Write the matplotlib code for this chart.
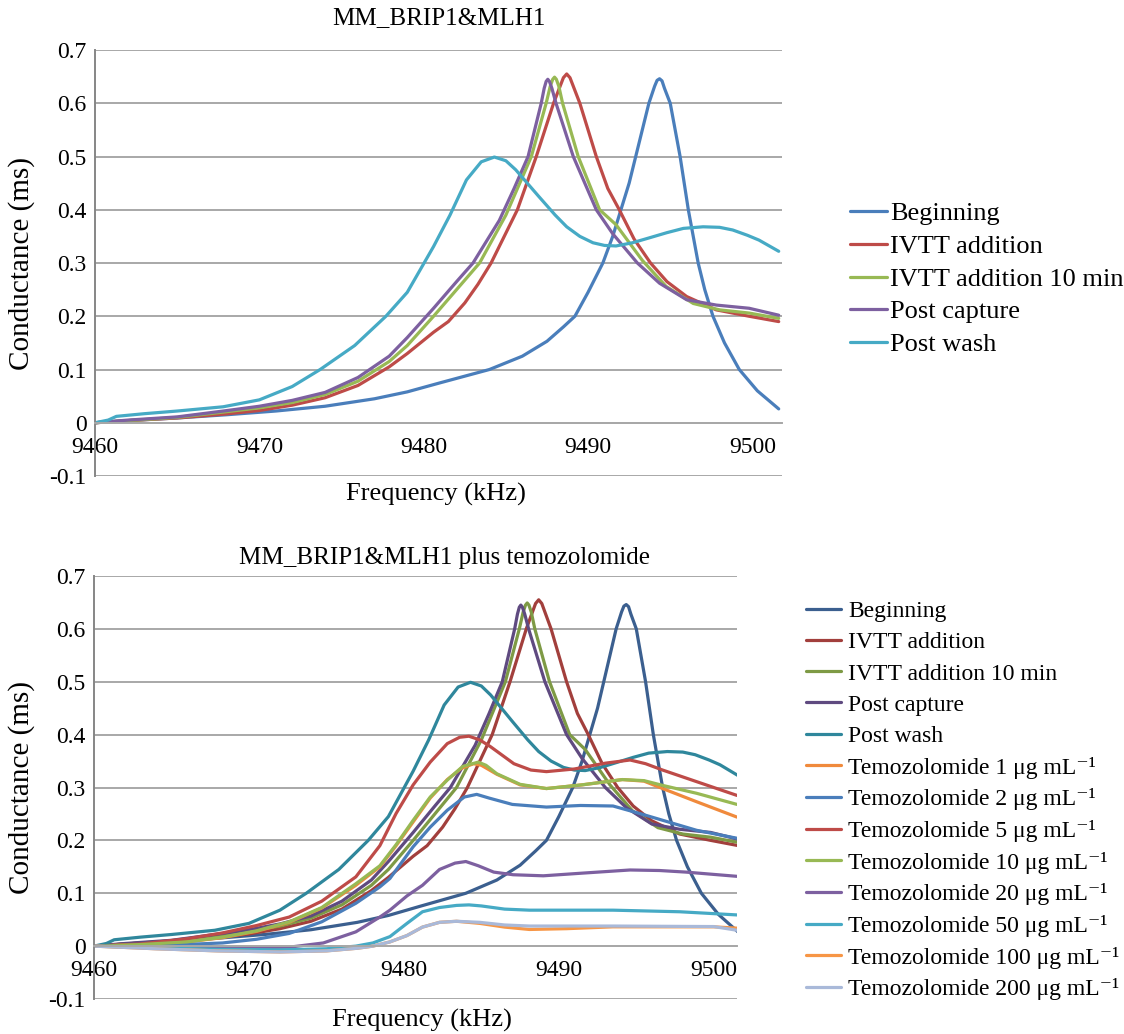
import matplotlib
matplotlib.use("Agg")
import matplotlib.pyplot as plt

plt.rcParams['font.family'] = ['Liberation Serif', 'DejaVu Serif']

# ---- shared series (the lower chart repeats them) ----
begin_f = [9460, 9462, 9465, 9468, 9471, 9474, 9477, 9479, 9481, 9484, 9486, 9487.5, 9488.5,
           9489.2, 9490, 9490.9, 9491.5, 9492, 9492.5, 9492.9, 9493.3, 9493.7, 9494.05, 9494.2,
           9494.35, 9494.5, 9494.65, 9495, 9495.3, 9495.6, 9496.1, 9496.7, 9497.1, 9497.6, 9498.3,
           9499.2, 9500.3, 9501.6]
begin_g = [0, 0.004, 0.009, 0.015, 0.022, 0.031, 0.045, 0.058, 0.075, 0.1, 0.125, 0.153, 0.18,
           0.2, 0.245, 0.3, 0.35, 0.4, 0.45, 0.5, 0.55, 0.6, 0.632, 0.643,
           0.646, 0.642, 0.628, 0.6, 0.55, 0.5, 0.4, 0.3, 0.25, 0.2, 0.15,
           0.1, 0.06, 0.026]

ivtt_f = [9460, 9462, 9465, 9467.8, 9470, 9472, 9474, 9476, 9477.9, 9479, 9480.6, 9481.5, 9482.5,
          9483.3, 9484.1, 9485.7, 9486.85, 9487.9, 9488.3, 9488.5, 9488.7, 9488.9, 9489.1, 9489.5,
          9490.5, 9491.2, 9491.9, 9492.8, 9493.8, 9494.8, 9496, 9497.8, 9499.8, 9501.6]
ivtt_g = [0, 0.004, 0.009, 0.016, 0.023, 0.033, 0.047, 0.07, 0.105, 0.13, 0.17, 0.19, 0.225,
          0.26, 0.3, 0.4, 0.5, 0.6, 0.632, 0.648, 0.655, 0.648, 0.632, 0.6,
          0.5, 0.44, 0.4, 0.345, 0.3, 0.265, 0.237, 0.212, 0.2, 0.19]

ivtt10_f = [9460, 9462, 9465, 9467.8, 9470, 9472, 9474, 9476, 9477.9, 9479, 9480.6, 9482, 9483.4,
            9485, 9486.55, 9487.45, 9487.7, 9487.85, 9487.96, 9488.07, 9488.22, 9488.45, 9489.4,
            9490.7, 9491.7, 9493.3, 9494.75, 9496.4, 9498, 9499.8, 9501.6]
ivtt10_g = [0, 0.004, 0.01, 0.02, 0.028, 0.038, 0.053, 0.078, 0.115, 0.145, 0.2, 0.25, 0.3,
            0.39, 0.5, 0.6, 0.632, 0.645, 0.649, 0.645, 0.632, 0.6, 0.5,
            0.4, 0.372, 0.305, 0.256, 0.224, 0.212, 0.206, 0.196]

capture_f = [9460, 9462, 9465, 9467.8, 9470, 9472, 9474, 9476, 9477.9, 9479, 9480.6, 9482, 9483,
             9484.6, 9485.5, 9486.35, 9487.15, 9487.33, 9487.45, 9487.55, 9487.65, 9487.8, 9488.05,
             9489.1, 9490.5, 9491.5, 9493, 9494.35, 9496, 9497.8, 9499.8, 9501.6]
capture_g = [0, 0.005, 0.011, 0.022, 0.031, 0.042, 0.057, 0.085, 0.125, 0.16, 0.215, 0.265, 0.3,
             0.38, 0.44, 0.5, 0.6, 0.628, 0.641, 0.645, 0.641, 0.628, 0.6,
             0.5, 0.4, 0.355, 0.3, 0.262, 0.231, 0.221, 0.215, 0.202]

wash_f = [9460, 9460.8, 9461.3, 9463, 9465, 9467.8, 9470, 9472, 9473.7, 9475.8, 9477.7, 9479,
          9480.6, 9481.6, 9482.6, 9483.5, 9484.3, 9485, 9485.6, 9486.3, 9487, 9488, 9488.7, 9489.5,
          9490.3, 9491, 9491.7, 9492.7, 9493.7, 9494.8, 9495.8, 9497, 9498, 9498.8, 9499.7, 9500.4, 9501.6]
wash_g = [0, 0.005, 0.012, 0.017, 0.022, 0.03, 0.043, 0.068, 0.1, 0.145, 0.2, 0.245,
          0.331, 0.39, 0.456, 0.49, 0.499, 0.492, 0.475, 0.45, 0.425, 0.39, 0.368, 0.35,
          0.338, 0.333, 0.332, 0.338, 0.347, 0.357, 0.365, 0.368, 0.367, 0.362, 0.352, 0.343, 0.322]

# ---- temozolomide series (lower chart) ----
t1_f = [9460, 9463, 9466, 9468.3, 9470.5, 9472.6, 9474.7, 9476.9, 9478.45, 9479.5, 9480.6, 9481.7,
        9482.8, 9483.7, 9484.5, 9485, 9486, 9487.5, 9489.2, 9491.5, 9494.1, 9495.5, 9496.7, 9498.9, 9501.5]
t1_g = [0, 0.003, 0.008, 0.016, 0.028, 0.045, 0.072, 0.115, 0.15, 0.19, 0.235, 0.28,
        0.315, 0.336, 0.345, 0.342, 0.325, 0.305, 0.298, 0.305, 0.315, 0.312, 0.298, 0.273, 0.244]

t2_f = [9460, 9464, 9468.3, 9470.5, 9472.6, 9474.7, 9476.9, 9478.45, 9479.1, 9480.6, 9481.7, 9482.8,
        9483.9, 9484.7, 9485.5, 9487, 9489.2, 9491.4, 9493.5, 9495.2, 9496.7, 9498.9, 9501.5]
t2_g = [0, 0.001, 0.006, 0.013, 0.024, 0.046, 0.081, 0.112, 0.128, 0.188, 0.225, 0.257,
        0.282, 0.287, 0.28, 0.268, 0.263, 0.266, 0.265, 0.251, 0.238, 0.219, 0.204]

t5_f = [9460, 9463, 9466, 9468.3, 9470.5, 9472.6, 9474.7, 9476.9, 9478.45, 9479.5, 9480.6, 9481.7,
        9482.8, 9483.6, 9484.2, 9484.9, 9485.6, 9487.1, 9488.2, 9489.2, 9491, 9493, 9494.6, 9495.6,
        9496.7, 9498.9, 9501.5]
t5_g = [0, 0.004, 0.014, 0.025, 0.039, 0.055, 0.085, 0.131, 0.19, 0.251, 0.305, 0.348,
        0.383, 0.395, 0.397, 0.39, 0.377, 0.345, 0.333, 0.33, 0.335, 0.346, 0.352, 0.345,
        0.333, 0.311, 0.285]

t10_f = [9460, 9463, 9466, 9468.3, 9470.5, 9472.6, 9474.7, 9476.9, 9478.45, 9479.5, 9480.6, 9481.7,
         9482.8, 9483.8, 9484.8, 9485.3, 9486, 9487.5, 9489.2, 9491.5, 9494.1, 9495.5, 9496.7, 9498.9, 9501.5]
t10_g = [0, 0.003, 0.008, 0.017, 0.029, 0.046, 0.073, 0.118, 0.152, 0.192, 0.238, 0.282,
         0.314, 0.34, 0.348, 0.342, 0.326, 0.306, 0.298, 0.305, 0.315, 0.313, 0.304, 0.289, 0.268]

t20_f = [9460, 9464, 9468, 9472.6, 9474.8, 9476.9, 9478.45, 9479.1, 9480.2, 9481.2, 9482.3, 9483.3,
         9484, 9484.8, 9485.8, 9487.05, 9489, 9491.5, 9494.6, 9496.5, 9498.2, 9501.5]
t20_g = [0, -0.002, -0.004, -0.002, 0.006, 0.027, 0.055, 0.068, 0.095, 0.115, 0.145, 0.157,
         0.16, 0.152, 0.14, 0.135, 0.133, 0.138, 0.144, 0.143, 0.14, 0.132]

t50_f = [9460, 9464, 9468, 9472, 9475, 9476.9, 9478, 9479.1, 9480.2, 9481.2, 9482.3, 9483.4,
         9484.2, 9485, 9486.5, 9488.1, 9493.5, 9497.8, 9501.5]
t50_g = [0, -0.003, -0.006, -0.007, -0.005, 0, 0.006, 0.018, 0.043, 0.065, 0.073, 0.077,
         0.078, 0.076, 0.07, 0.068, 0.068, 0.065, 0.059]

t100_f = [9460, 9464, 9468, 9472, 9475, 9477, 9478, 9479.1, 9480.2, 9481.2, 9482.3, 9483.4,
          9484.9, 9486.5, 9488.1, 9490.5, 9493.5, 9500, 9501.5]
t100_g = [0, -0.005, -0.009, -0.011, -0.009, -0.004, 0, 0.008, 0.02, 0.036, 0.045, 0.047,
          0.043, 0.036, 0.0315, 0.033, 0.0365, 0.0365, 0.034]

t200_f = [9460, 9464, 9468, 9472, 9475, 9477, 9478, 9479.1, 9480.2, 9481.2, 9482.3, 9483.4,
          9484.9, 9486.5, 9488.1, 9493.5, 9500, 9501.5]
t200_g = [0, -0.005, -0.009, -0.011, -0.009, -0.004, 0, 0.008, 0.02, 0.036, 0.045, 0.047,
          0.045, 0.04, 0.038, 0.038, 0.037, 0.030]

base_labels = ['Beginning', 'IVTT addition', 'IVTT addition 10 min', 'Post capture', 'Post wash']
doses = [1, 2, 5, 10, 20, 50, 100, 200]
top_colors = ['#4A7EBB', '#BE4B48', '#98B954', '#7D60A0', '#46AAC5']
bottom_colors = ['#3B5F8F', '#A23F3C', '#7E9A45', '#5F4A80', '#2F879C',
                 '#F08A3C', '#4A7EBB', '#BE4B48', '#98B954', '#7D60A0', '#46AAC5', '#F79646', '#A9B9D9']

yticks = [-0.1, 0, 0.1, 0.2, 0.3, 0.4, 0.5, 0.6, 0.7]
ytick_labels = ['-0.1', '0', '0.1', '0.2', '0.3', '0.4', '0.5', '0.6', '0.7']
xticks = [9460, 9470, 9480, 9490, 9500]

FS = 17
W, H = 1124, 1034


def style_axes(ax, xmax):
    for s in ['top', 'right']:
        ax.spines[s].set_visible(False)
    ax.spines['bottom'].set_position(('data', 0))
    ax.spines['bottom'].set_color('#A8A8A8')
    ax.spines['bottom'].set_linewidth(1.4)
    ax.spines['left'].set_color('#868686')
    ax.spines['left'].set_linewidth(1.4)
    ax.set_xlim(9460, xmax)
    ax.set_ylim(-0.1, 0.7)
    ax.set_yticks(yticks)
    ax.set_yticklabels(ytick_labels)
    ax.set_xticks(xticks)
    ax.set_xticklabels([str(t) for t in xticks])
    ax.grid(axis='y', color='#A8A8A8', lw=1.4)
    ax.set_axisbelow(True)
    ax.tick_params(axis='x', length=0, pad=10, labelsize=FS)
    ax.tick_params(axis='y', length=0, pad=6, labelsize=FS)


def draw():
    fig = plt.figure(figsize=(W / 100, H / 100), dpi=100)
    ax1 = fig.add_axes([95 / W, 1 - 476 / H, 687 / W, 426 / H])
    ax2 = fig.add_axes([94 / W, 1 - 999 / H, 643 / W, 423 / H])

    base = [(begin_f, begin_g), (ivtt_f, ivtt_g), (ivtt10_f, ivtt10_g),
            (capture_f, capture_g), (wash_f, wash_g)]
    temo = [(t1_f, t1_g), (t2_f, t2_g), (t5_f, t5_g), (t10_f, t10_g),
            (t20_f, t20_g), (t50_f, t50_g), (t100_f, t100_g), (t200_f, t200_g)]

    for (f, g), lab, c in zip(base, base_labels, top_colors):
        ax1.plot(f, g, color=c, lw=2.3, label=lab, solid_capstyle='round', solid_joinstyle='round')

    labels2 = base_labels + ['Temozolomide %d μg mL⁻¹' % d for d in doses]
    for (f, g), lab, c in zip(base + temo, labels2, bottom_colors):
        ax2.plot(f, g, color=c, lw=2.3, label=lab, solid_capstyle='round', solid_joinstyle='round')

    style_axes(ax1, 9501.8)
    style_axes(ax2, 9501.5)

    fig.text(439 / W, 1 - 18 / H, 'MM_BRIP1&MLH1', ha='center', va='center', fontsize=18)
    fig.text(445 / W, 1 - 558 / H, 'MM_BRIP1&MLH1 plus temozolomide', ha='center', va='center', fontsize=18)
    fig.text(436 / W, 1 - 494 / H, 'Frequency (kHz)', ha='center', va='center', fontsize=19)
    fig.text(422 / W, 1 - 1020 / H, 'Frequency (kHz)', ha='center', va='center', fontsize=19)
    fig.text(22 / W, 1 - 263 / H, 'Conductance (ms)', ha='center', va='center', rotation=90, fontsize=21)
    fig.text(22 / W, 1 - 788 / H, 'Conductance (ms)', ha='center', va='center', rotation=90, fontsize=21)

    h1, l1 = ax1.get_legend_handles_labels()
    fig.legend(h1, l1, loc='center left', bbox_to_anchor=(850 / W, 1 - 279 / H),
               frameon=False, fontsize=19, handlelength=1.4, handletextpad=0.12,
               labelspacing=0.35, borderpad=0, borderaxespad=0)
    h2, l2 = ax2.get_legend_handles_labels()
    fig.legend(h2, l2, loc='center left', bbox_to_anchor=(806 / W, 1 - 800.5 / H),
               frameon=False, fontsize=FS, handlelength=1.5, handletextpad=0.3,
               labelspacing=0.41, borderpad=0, borderaxespad=0)

    fig.savefig('out.png', dpi=100)


if __name__ == '__main__':
    draw()
